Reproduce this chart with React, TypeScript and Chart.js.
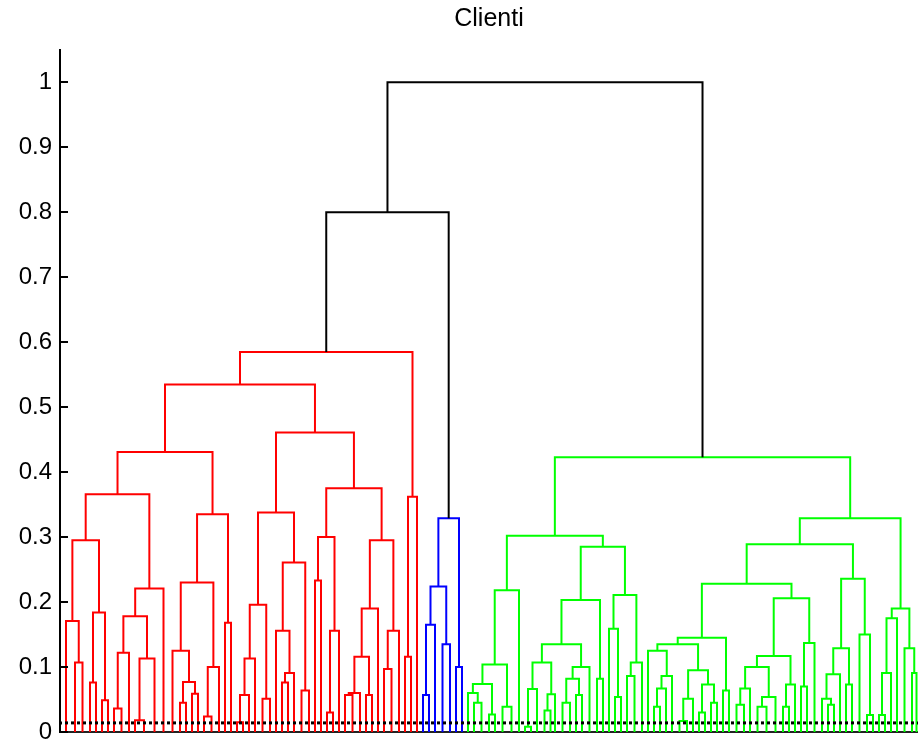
import { useEffect, useRef } from "react";
import { Chart, registerables } from "chart.js";

Chart.register(...registerables);

// A subtree is either a leaf (0) or [mergeHeight, left, right].
type Tree = 0 | [number, Tree, Tree];
type Pt = { x: number; y: number | null };

const chartTitle = "Clienti";

const yMax = 1.05;
const yTicks = [0, 0.1, 0.2, 0.3, 0.4, 0.5, 0.6, 0.7, 0.8, 0.9, 1];
const yTickLabels = ["0", "0.1", "0.2", "0.3", "0.4", "0.5", "0.6", "0.7", "0.8", "0.9", "1"];

// Heights of the two black top-level merges.
const upperMergeHeight = 0.8;
const rootMergeHeight = 1.0;
// Height of the many tiny merges at the base of the tree.
const baseMergeHeight = 0.014;

// Number of observations in each leaf, left to right.
const leafSizes = [
  4, 2, 3, 2, 2, 2, 2, 2, 3, 2,
  2, 4, 3, 3, 3, 2, 2, 2, 2, 2,
  3, 2, 2, 2, 2, 2, 2, 2, 3, 2,
  2, 2, 2, 2, 3, 2, 2, 2, 2, 2,
  2, 2, 3, 2, 2, 2, 2, 2, 3, 2,
  2, 2, 2, 2, 2, 2, 3, 2, 2, 2,
  2, 2, 3, 2, 2, 3, 3, 2, 2, 2,
  2, 3, 1, 2, 3, 2, 2, 2, 3, 2,
  2, 2, 2, 2, 2, 3, 2, 2, 2, 2,
  2, 2, 3, 2, 2, 2, 2, 2, 2, 2,
  2, 3, 2, 2, 3, 3, 3, 2, 2, 2,
  2, 2, 3, 2, 2, 2, 2, 2, 2, 3,
  2, 2, 2, 2, 2, 2, 3, 2, 1,
];

const redTree: Tree = [0.585,
  [0.535,
    [0.431,
      [0.366,
        [0.295,
          [0.171, 0, [0.107, 0, 0]],
          [0.184, [0.076, 0, 0], [0.049, 0, 0]]],
        [0.221,
          [0.178,
            [0.122, [0.036, 0, 0], 0],
            [0.113, [0.018, 0, 0], 0]],
          0]],
      [0.335,
        [0.230,
          [0.125, 0, [0.077, [0.045, 0, 0], [0.059, 0, 0]]],
          [0.100, [0.024, 0, 0], 0]],
        [0.168, 0, 0]]],
    [0.461,
      [0.338,
        [0.196,
          [0.113, [0.057, [0.015, 0, 0], 0], 0],
          [0.051, 0, 0]],
        [0.261,
          [0.156, 0, [0.091, [0.076, 0, 0], 0]],
          [0.064, 0, 0]]],
      [0.375,
        [0.300,
          [0.233, 0, 0],
          [0.156, [0.030, 0, 0], 0]],
        [0.295,
          [0.190,
            [0.116, [0.060, [0.057, 0, 0], 0], [0.057, 0, 0]],
            0],
          [0.156, [0.097, 0, 0], 0]]]]],
  [0.362, [0.116, 0, 0], 0]];

const blueTree: Tree = [0.329,
  [0.224, [0.165, [0.057, 0, 0], 0], [0.135, 0, 0]],
  [0.100, 0, 0]];

const greenTree: Tree = [0.423,
  [0.302,
    [0.218,
      [0.104,
        [0.074, [0.060, 0, [0.045, 0, 0]], [0.027, 0, 0]],
        [0.039, 0, 0]],
      0],
    [0.285,
      [0.203,
        [0.135,
          [0.107,
            [0.066, [0.008, 0, 0], 0],
            [0.058, [0.033, 0, 0], 0]],
          [0.100,
            [0.082, [0.045, 0, 0], [0.057, 0, 0]],
            0]],
        [0.082, 0, 0]],
      [0.211,
        [0.159, 0, [0.054, 0, 0]],
        [0.107, [0.086, 0, 0], 0]]]],
  [0.329,
    [0.289,
      [0.228,
        [0.145,
          [0.135,
            [0.125, 0, [0.086, [0.067, [0.039, 0, 0], 0], 0]],
            [0.095,
              [0.051, [0.017, 0, 0], 0],
              [0.073, [0.030, 0, 0], [0.045, 0, 0]]]],
          [0.064, 0, 0]],
        [0.206,
          [0.117,
            [0.100,
              [0.067, [0.042, 0, 0], 0],
              [0.054, [0.039, 0, 0], 0]],
            [0.073, [0.039, 0, 0], 0]],
          [0.137, [0.070, 0, 0], 0]]],
      [0.236,
        [0.129,
          [0.089, [0.051, 0, [0.042, 0, 0]], 0],
          [0.073, 0, 0]],
        [0.150, 0, [0.026, 0, 0]]]],
    [0.190,
      [0.175, [0.091, [0.026, 0, 0], 0], 0],
      [0.129, 0, [0.091, 0, 0]]]]];

const totalObs = leafSizes.reduce((a, b) => a + b, 0);

type Placed = { x: number; h: number };

// Adds the U-shaped link joining two placed children at height h.
function pushLink(out: Pt[], a: Placed, b: Placed, h: number) {
  out.push(
    { x: a.x, y: a.h },
    { x: a.x, y: h },
    { x: b.x, y: h },
    { x: b.x, y: b.h },
    { x: b.x, y: null }
  );
}

// Walks a subtree left to right, placing each leaf at the centre of its
// observations and each merge at the mean of its two children.
function layoutTree(node: Tree, state: { leaf: number; pos: number }, out: Pt[]): Placed {
  if (node === 0) {
    const size = leafSizes[state.leaf++];
    const x = state.pos + size / 2;
    state.pos += size;
    return { x, h: 0 };
  }
  const [h, left, right] = node;
  const a = layoutTree(left, state, out);
  const b = layoutTree(right, state, out);
  pushLink(out, a, b, h);
  return { x: (a.x + b.x) / 2, h };
}

function buildSegments() {
  const state = { leaf: 0, pos: 0 };
  const red: Pt[] = [];
  const blue: Pt[] = [];
  const green: Pt[] = [];
  const black: Pt[] = [];
  const r = layoutTree(redTree, state, red);
  const b = layoutTree(blueTree, state, blue);
  const g = layoutTree(greenTree, state, green);
  const upper: Placed = { x: (r.x + b.x) / 2, h: upperMergeHeight };
  pushLink(black, r, b, upperMergeHeight);
  pushLink(black, upper, g, rootMergeHeight);
  return { red, blue, green, black };
}

const innerTicks = {
  id: "innerTicks",
  afterDraw(chart: any) {
    const { ctx, chartArea, scales } = chart;
    const y = scales.y;
    ctx.save();
    ctx.strokeStyle = "#000";
    ctx.lineWidth = 2;
    for (const v of yTicks) {
      const py = Math.round(y.getPixelForValue(v));
      ctx.beginPath();
      ctx.moveTo(chartArea.left, py);
      ctx.lineTo(chartArea.left + 8, py);
      ctx.stroke();
    }
    ctx.restore();
  },
};

export default function App() {
  const canvasRef = useRef<HTMLCanvasElement>(null);

  useEffect(() => {
    const canvas = canvasRef.current;
    if (!canvas) return;
    const seg = buildSegments();
    const link = (data: Pt[], color: string, order: number) => ({
      data,
      borderColor: color,
      backgroundColor: color,
      borderWidth: 2,
      showLine: true,
      spanGaps: false,
      fill: false,
      pointRadius: 0,
      pointHoverRadius: 0,
      borderCapStyle: "butt" as const,
      borderJoinStyle: "miter" as const,
      order,
    });

    const chart = new Chart(canvas, {
      type: "scatter",
      data: {
        datasets: [
          link(seg.red, "#ff0000", 4),
          link(seg.blue, "#0000ff", 4),
          link(seg.green, "#00ff00", 4),
          link(seg.black, "#000000", 3),
          {
            data: [
              { x: 0, y: baseMergeHeight },
              { x: totalObs, y: baseMergeHeight },
            ],
            borderColor: "#000000",
            borderWidth: 3,
            borderDash: [3, 3],
            borderDashOffset: 1,
            showLine: true,
            fill: false,
            pointRadius: 0,
            pointHoverRadius: 0,
            order: 1,
          },
        ],
      },
      options: {
        animation: false,
        responsive: false,
        layout: { padding: { left: 0, right: 0, top: 0, bottom: 8 } },
        plugins: {
          legend: { display: false },
          tooltip: { enabled: false },
          title: {
            display: true,
            text: chartTitle,
            fullSize: false,
            color: "#000",
            font: { family: "'Liberation Sans', Arial, sans-serif", size: 25, weight: "normal" },
            padding: { top: 4, bottom: 15.8 },
          },
        },
        scales: {
          x: {
            type: "linear",
            min: 0,
            max: totalObs,
            grid: { display: false },
            ticks: { display: false },
            border: { display: true, color: "#222", width: 2 },
            afterFit: (s: any) => {
              s.paddingLeft = 0;
              s.paddingRight = 0;
              s.height = 0;
            },
          },
          y: {
            type: "linear",
            min: 0,
            max: yMax,
            grid: { display: false, drawTicks: false },
            border: { display: true, color: "#000", width: 2 },
            ticks: {
              color: "#000",
              padding: 8,
              autoSkip: false,
              font: { family: "'Liberation Sans', Arial, sans-serif", size: 24 },
              callback: (_v: any, i: number) => yTickLabels[i],
            },
            afterBuildTicks: (s: any) => {
              s.ticks = yTicks.map((value) => ({ value }));
            },
            afterFit: (s: any) => {
              s.width = 60;
              s.paddingTop = 0;
              s.paddingBottom = 0;
            },
          },
        },
      },
      plugins: [innerTicks],
    });

    return () => chart.destroy();
  }, []);

  return (
    <div style={{ position: "absolute", left: 0, top: 0, width: 918, height: 740 }}>
      <canvas ref={canvasRef} width={918} height={740} style={{ display: "block" }} />
    </div>
  );
}
